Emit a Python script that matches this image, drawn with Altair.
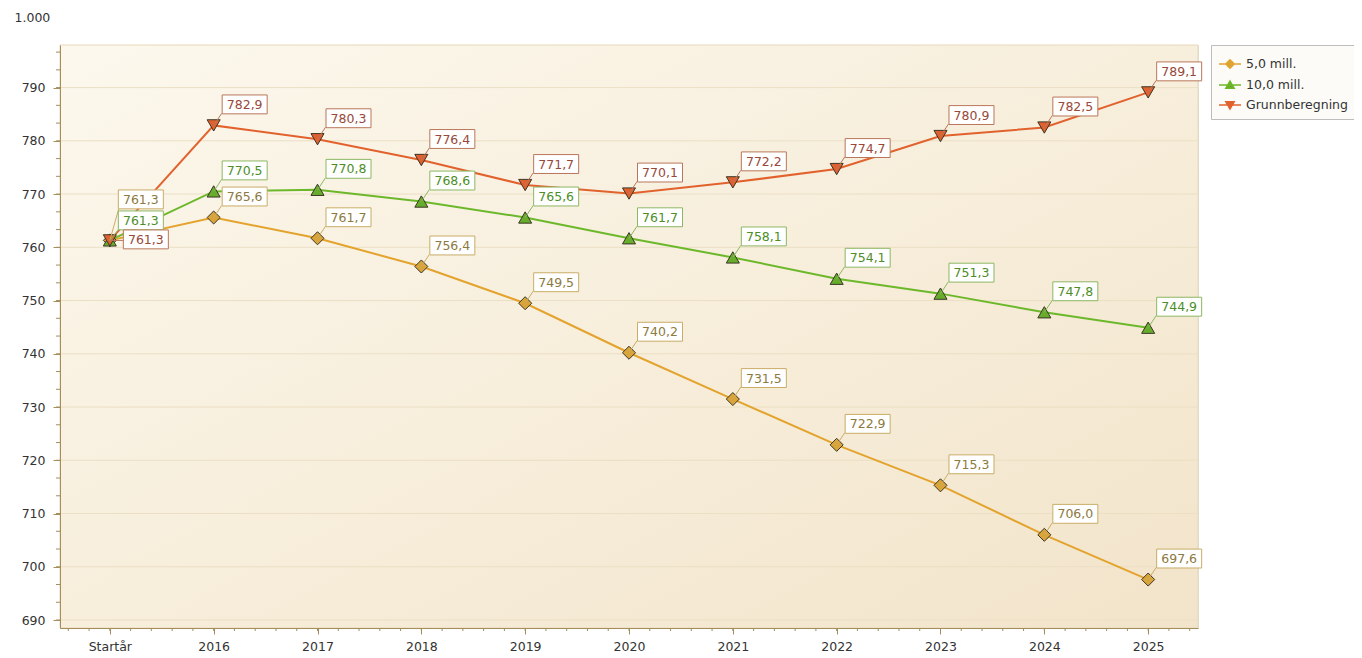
import altair as alt
import pandas as pd

# ---- data ----
categories = ["Startår", "2016", "2017", "2018", "2019", "2020", "2021", "2022", "2023", "2024", "2025"]
series_names = ["5,0 mill.", "10,0 mill.", "Grunnberegning"]
s_5 = [761.3, 765.6, 761.7, 756.4, 749.5, 740.2, 731.5, 722.9, 715.3, 706.0, 697.6]
s_10 = [761.3, 770.5, 770.8, 768.6, 765.6, 761.7, 758.1, 754.1, 751.3, 747.8, 744.9]
s_grunn = [761.3, 782.9, 780.3, 776.4, 771.7, 770.1, 772.2, 774.7, 780.9, 782.5, 789.1]
y_major = [690, 700, 710, 720, 730, 740, 750, 760, 770, 780, 790]
y_minor = [690 + 10 * i / 3 for i in range(33)]
x_minor = [round(-0.4 + 0.2 * i, 2) for i in range(55)]

rows = []
for sname, vals in zip(series_names, [s_5, s_10, s_grunn]):
    for i, v in enumerate(vals):
        rows.append({"idx": i, "cat": categories[i], "series": sname, "value": v,
                     "label": f"{v:.1f}".replace(".", ",")})
df = pd.DataFrame(rows)

W, H = 1138, 583
FONT = "DejaVu Sans"
AXIS_COLOR = "#a38e5c"

line_colors = ["#e3a32d", "#6cb82a", "#e2622d"]
marker_fill = ["#d9a43a", "#67ad2b", "#e0612f"]
box_colors = ["#c9ac66", "#8cb762", "#b9765a"]
text_colors = ["#8d7a40", "#4d8e28", "#98493a"]

label_expr = "[" + ",".join("'" + c + "'" for c in categories) + "][datum.value]"

x_scale = alt.Scale(domain=[-0.48, 10.48], nice=False, zero=False)
y_scale = alt.Scale(domain=[688.5, 798], nice=False, zero=False)

x_axis = alt.Axis(values=list(range(11)), labelExpr=label_expr, grid=False,
                  tickSize=6, tickColor=AXIS_COLOR, domainColor=AXIS_COLOR,
                  labelFont=FONT, labelFontSize=12.5, labelColor="#333333",
                  labelPadding=6, zindex=1, title=None)
y_axis = alt.Axis(values=y_major, grid=False, tickSize=7, tickColor=AXIS_COLOR,
                  domainColor=AXIS_COLOR, labelFont=FONT, labelFontSize=12.5,
                  labelColor="#333333", labelPadding=8, zindex=1,
                  title="1.000", titleAngle=0, titleX=-46, titleY=-28,
                  titleAlign="left", titleBaseline="middle", titleFont=FONT,
                  titleFontSize=12.5, titleFontWeight="normal", titleColor="#333333")

X = lambda f: alt.X(f, scale=x_scale, axis=x_axis)
Y = lambda f: alt.Y(f, scale=y_scale, axis=y_axis)

base = alt.Chart(df)

bg = alt.Chart(alt.Data(values=[{}])).mark_rect(
    fill=alt.LinearGradient(gradient="linear",
                            stops=[alt.GradientStop(color="#fcf8ed", offset=0),
                                   alt.GradientStop(color="#f2e4ca", offset=1)],
                            x1=0, y1=0, x2=1, y2=1),
    stroke="#e6d9bb", strokeWidth=1
).encode(x=alt.value(0), x2=alt.value(W), y=alt.value(0), y2=alt.value(H))

grid = alt.Chart(pd.DataFrame({"g": y_major})).mark_rule(color="#ebdfc4", strokeWidth=1).encode(
    y=Y("g:Q"), x=alt.value(0), x2=alt.value(W))

yminor = alt.Chart(pd.DataFrame({"m": y_minor})).mark_rule(color=AXIS_COLOR).encode(
    y=Y("m:Q"), x=alt.value(-4), x2=alt.value(0))
xminor = alt.Chart(pd.DataFrame({"n": x_minor})).mark_rule(color=AXIS_COLOR).encode(
    x=X("n:Q"), y=alt.value(H), y2=alt.value(H + 3))

lines = base.mark_line(strokeWidth=2).encode(
    x=X("idx:Q"), y=Y("value:Q"),
    stroke=alt.Stroke("series:N", scale=alt.Scale(domain=series_names, range=line_colors), legend=None),
    detail="series:N")

markers = base.mark_point(filled=True, stroke="#3b3626", strokeWidth=1, opacity=1, size=170).encode(
    x=X("idx:Q"), y=Y("value:Q"),
    fill=alt.Fill("series:N", scale=alt.Scale(domain=series_names, range=marker_fill), legend=None),
    shape=alt.Shape("series:N", scale=alt.Scale(domain=series_names,
                                                range=["diamond", "triangle-up", "triangle-down"]),
                    legend=None))

BOX = "M-1,-0.42L1,-0.42L1,0.42L-1,0.42Z"


def label_layers(filter_expr, dx, dy, lx, ly):
    d = base.transform_filter(filter_expr)
    leader = d.mark_rule(strokeWidth=1, x2Offset=lx, y2Offset=ly).encode(
        x=X("idx:Q"), y=Y("value:Q"), x2="idx:Q", y2="value:Q",
        color=alt.Color("series:N", scale=alt.Scale(domain=series_names, range=box_colors), legend=None))
    box = d.mark_point(shape=BOX, size=2025, filled=False, fill="white", strokeWidth=1,
                       opacity=1, xOffset=dx, yOffset=dy).encode(
        x=X("idx:Q"), y=Y("value:Q"),
        color=alt.Color("series:N", scale=alt.Scale(domain=series_names, range=box_colors), legend=None))
    txt = d.mark_text(font=FONT, fontSize=12.5, align="center", baseline="middle",
                      xOffset=dx, yOffset=dy + 0.5).encode(
        x=X("idx:Q"), y=Y("value:Q"), text="label:N",
        color=alt.Color("series:N", scale=alt.Scale(domain=series_names, range=text_colors), legend=None))
    return [leader, box, txt]


lab_layers = []
lab_layers += label_layers("datum.idx > 0", 31, -21, 8, -12)
lab_layers += label_layers("datum.idx == 0 && datum.series == '5,0 mill.'", 31, -41, 9, -32)
lab_layers += label_layers("datum.idx == 0 && datum.series == '10,0 mill.'", 31, -20, 9, -11)
lab_layers += label_layers("datum.idx == 0 && datum.series == 'Grunnberegning'", 36, -1, 14, 0)

legend_shapes = [
    "M-1,0L1,0M0,-0.38L0.38,0L0,0.38L-0.38,0Z",
    "M-1,0L1,0M0,-0.36L0.38,0.3L-0.38,0.3Z",
    "M-1,0L1,0M-0.38,-0.3L0.38,-0.3L0,0.36Z",
]
leg = alt.Legend(title=None, orient="none", legendX=1151, legendY=0, padding=7,
                 fillColor="#fcfbf7", strokeColor="#bdbdbd", symbolSize=484,
                 symbolStrokeWidth=1.5, rowPadding=1, labelFont=FONT, labelFontSize=12.5,
                 labelColor="#333333", labelOffset=4)
legend_layer = base.transform_filter("false").mark_point(filled=False, strokeWidth=1.5, opacity=1).encode(
    x=X("idx:Q"), y=Y("value:Q"),
    fill=alt.Fill("series:N", scale=alt.Scale(domain=series_names, range=marker_fill), legend=leg),
    stroke=alt.Stroke("series:N", scale=alt.Scale(domain=series_names, range=line_colors), legend=leg),
    shape=alt.Shape("series:N", scale=alt.Scale(domain=series_names, range=legend_shapes), legend=leg))

chart = alt.layer(bg, grid, yminor, xminor, lines, markers, *lab_layers, legend_layer).resolve_scale(
    color="independent", fill="independent", stroke="independent", shape="independent"
).properties(
    width=W, height=H,
    autosize=alt.AutoSizeParams(type="none"),
    padding={"left": 52, "top": 37, "right": 156, "bottom": 28},
).configure_view(stroke=None).configure(background="white")

chart.save("out.html", embed_options={"renderer": "svg", "actions": False})
